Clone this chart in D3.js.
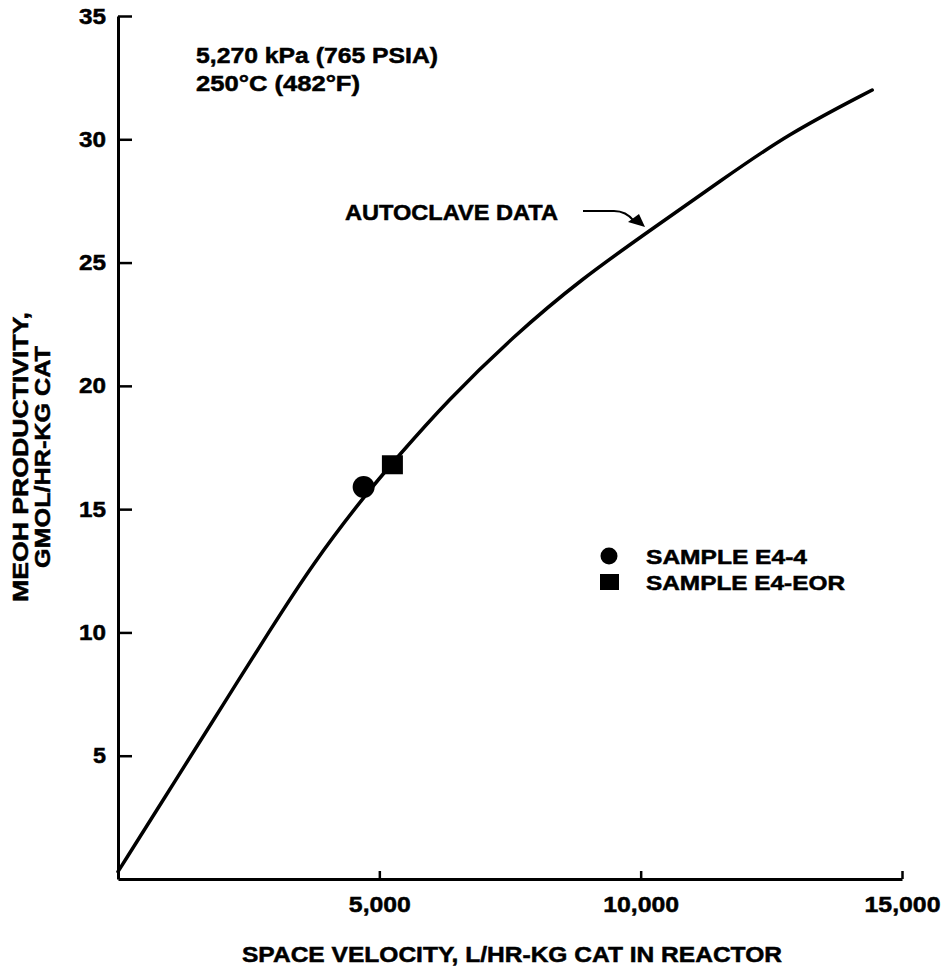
<!DOCTYPE html>
<html>
<head>
<meta charset="utf-8">
<script src="https://cdn.jsdelivr.net/npm/d3@7"></script>
<style>
  html, body { margin: 0; padding: 0; background: #fff; }
  svg { display: block; }
  text { font-family: "Liberation Sans", Arial, Helvetica, sans-serif; font-weight: bold; fill: #000; stroke: #000; stroke-width: 0.5px; }
</style>
</head>
<body>
<svg id="chart" width="945" height="970"></svg>
<script>
// ---- data ----
const curveX = [0, 1130, 1990, 2910, 3730, 4700, 5340, 6300, 7560, 8840, 10310, 11520, 12800, 14430];
const curveY = [0.3, 4.1, 7.0, 10.1, 12.8, 15.5, 17.1, 19.4, 22.0, 24.3, 26.5, 28.3, 30.2, 32.0];
const sampleNames = ["SAMPLE E4-4", "SAMPLE E4-EOR"];
const sampleX = [4700, 5250];
const sampleY = [15.9, 16.8];
const sampleShapes = ["circle", "square"];
const xTicks = [5000, 10000, 15000];
const yTicks = [5, 10, 15, 20, 25, 30, 35];
const xTitle = "SPACE VELOCITY, L/HR-KG CAT IN REACTOR";
const yTitle = ["MEOH PRODUCTIVITY,", "GMOL/HR-KG CAT"];
const conditions = ["5,270 kPa (765 PSIA)", "250\u00B0C (482\u00B0F)"];
const curveLabel = "AUTOCLAVE DATA";

// ---- layout ----
const svg = d3.select("#chart");
const x = d3.scaleLinear().domain([0, 15000]).range([118, 902]);
const y = d3.scaleLinear().domain([0, 35]).range([879, 16]);

// axes
const gy = svg.append("g").attr("transform", `translate(${x(0)},0)`)
  .call(d3.axisLeft(y).tickValues(yTicks).tickSizeInner(-14).tickSizeOuter(0).tickPadding(12));
gy.attr("font-family", null).attr("font-size", null);
gy.select(".domain").attr("stroke", "#000").attr("stroke-width", 3);
gy.selectAll(".tick line").attr("stroke", "#000").attr("stroke-width", 2.5);
gy.selectAll(".tick text").attr("font-size", 22).attr("font-weight", "bold")
  .attr("textLength", d => d >= 10 ? 27 : 13).attr("lengthAdjust", "spacingAndGlyphs");

const gx = svg.append("g").attr("transform", `translate(0,${y(0)})`)
  .call(d3.axisBottom(x).tickValues(xTicks).tickFormat(d3.format(",")).tickSizeInner(-8).tickSizeOuter(0).tickPadding(17));
gx.attr("font-family", null).attr("font-size", null);
gx.select(".domain").attr("stroke", "#000").attr("stroke-width", 3);
gx.selectAll(".tick line").attr("stroke", "#000").attr("stroke-width", 2.5);
gx.selectAll(".tick text").attr("font-size", 22).attr("font-weight", "bold")
  .attr("textLength", d => d >= 10000 ? 76 : 62).attr("lengthAdjust", "spacingAndGlyphs");

// axis titles
svg.append("text").attr("x", 512).attr("y", 962).attr("text-anchor", "middle")
  .attr("font-size", 22).attr("textLength", 540).attr("lengthAdjust", "spacingAndGlyphs")
  .text(xTitle);

const yt = svg.append("g").attr("transform", "translate(0,457) rotate(-90)");
yt.append("text").attr("x", 0).attr("y", 28).attr("text-anchor", "middle")
  .attr("font-size", 22).attr("textLength", 290).attr("lengthAdjust", "spacingAndGlyphs").text(yTitle[0]);
yt.append("text").attr("x", 0).attr("y", 50).attr("text-anchor", "middle")
  .attr("font-size", 22).attr("textLength", 222).attr("lengthAdjust", "spacingAndGlyphs").text(yTitle[1]);

// conditions text
svg.append("text").attr("x", 196).attr("y", 63).attr("font-size", 22)
  .attr("textLength", 242).attr("lengthAdjust", "spacingAndGlyphs").text(conditions[0]);
svg.append("text").attr("x", 196).attr("y", 91).attr("font-size", 22)
  .attr("textLength", 164).attr("lengthAdjust", "spacingAndGlyphs").text(conditions[1]);

// curve
const pts = curveX.map((d, i) => [d, curveY[i]]);
const line = d3.line().x(d => x(d[0])).y(d => y(d[1])).curve(d3.curveBasis);
svg.append("path").datum(pts).attr("d", line)
  .attr("fill", "none").attr("stroke", "#000").attr("stroke-width", 3.5).attr("stroke-linecap", "round");

// curve label + arrow
svg.append("text").attr("x", 345).attr("y", 220).attr("font-size", 22)
  .attr("textLength", 213).attr("lengthAdjust", "spacingAndGlyphs").text(curveLabel);
svg.append("path").attr("d", "M583,211 L614,211 Q626,211 634,221")
  .attr("fill", "none").attr("stroke", "#000").attr("stroke-width", 2);
svg.append("path").attr("d", "M628,222 L639,214 L645,227 Z").attr("fill", "#000");

// sample markers
sampleShapes.forEach((s, i) => {
  const cx = x(sampleX[i]), cy = y(sampleY[i]);
  if (s === "circle") {
    svg.append("circle").attr("cx", cx).attr("cy", cy).attr("r", 11).attr("fill", "#000");
  } else {
    svg.append("rect").attr("x", cx - 10.5).attr("y", cy - 9.5).attr("width", 21).attr("height", 19).attr("fill", "#000");
  }
});

// legend
const legY = [556, 582];
sampleShapes.forEach((s, i) => {
  if (s === "circle") {
    svg.append("circle").attr("cx", 609).attr("cy", legY[i]).attr("r", 8.5).attr("fill", "#000");
  } else {
    svg.append("rect").attr("x", 600).attr("y", legY[i] - 8).attr("width", 19).attr("height", 16).attr("fill", "#000");
  }
  svg.append("text").attr("x", 646).attr("y", legY[i] + 8).attr("font-size", 20)
    .attr("textLength", i === 0 ? 161 : 199).attr("lengthAdjust", "spacingAndGlyphs").text(sampleNames[i]);
});
</script>
</body>
</html>
